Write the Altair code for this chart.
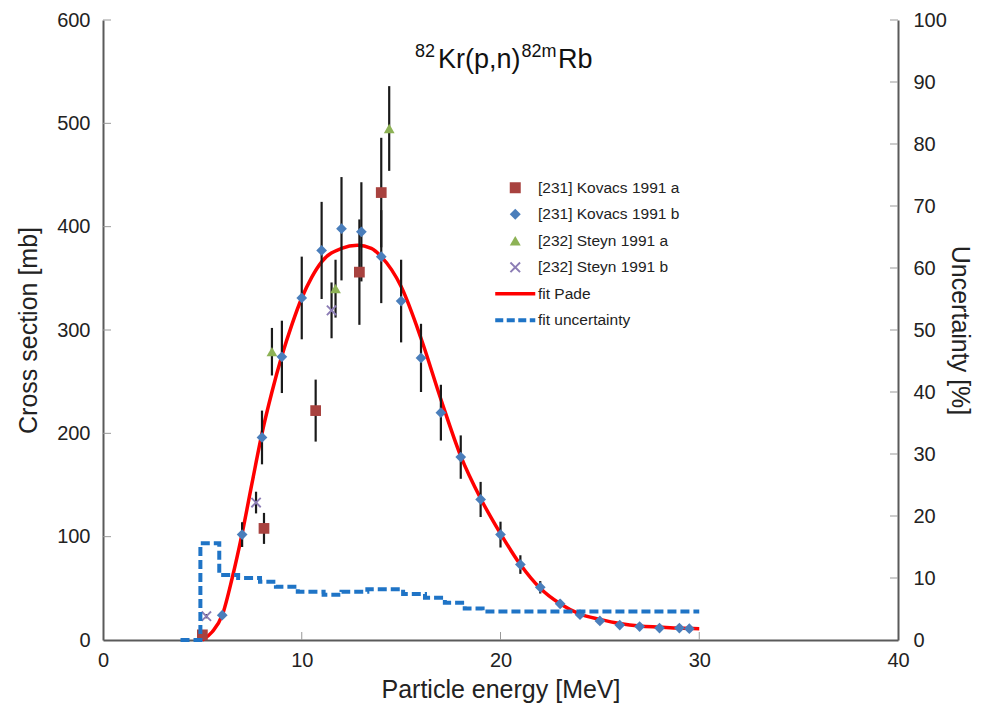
import altair as alt
import pandas as pd

# ---------------- data ----------------
series_names = ["[231] Kovacs 1991 a", "[231] Kovacs 1991 b", "[232] Steyn 1991 a",
                "[232] Steyn 1991 b", "fit Pade", "fit uncertainty"]

kov_a_E = [5.0, 8.1, 10.7, 12.9, 14.0]
kov_a_sig = [5, 108, 222, 356, 433]
kov_a_err = [2, 15, 30, 51, 53]

kov_b_E = [6, 7, 8, 9, 10, 11, 12, 13, 14, 15, 16, 17, 18, 19, 20, 21, 22, 23, 24, 25,
           26, 27, 28, 29, 29.5]
kov_b_sig = [24, 102, 196, 274, 331, 377, 398, 395, 371, 328, 273, 220, 177, 136, 102, 73,
             51, 35, 24.5, 18.5, 14.5, 13, 11.6, 11.5, 11]
kov_b_err = [3, 12, 26, 35, 40, 47, 50, 48, 45, 40, 33, 27, 21, 17, 12.5, 9, 6, 4, 3, 2,
             1.5, 1.5, 1.2, 1.2, 1.1]

steyn_a_E = [8.5, 11.7, 14.4]
steyn_a_sig = [279, 340, 495]
steyn_a_err = [23, 28, 41]

steyn_b_E = [5.2, 7.7, 11.5]
steyn_b_sig = [23, 133, 319]
steyn_b_err = [2, 10.5, 27]

fit_E = [5.0, 5.5, 6.0, 6.5, 7.0, 7.5, 8.0, 8.5, 9.0, 9.5, 10.0, 10.5, 11.0, 12.0, 12.8,
         13.5, 14.0, 15.0, 16.0, 17.0, 18.0, 19.0, 20.0, 21.0, 22.0, 23.0, 24.0, 25.0,
         26.0, 27.0, 28.0, 29.0, 30.0]
fit_sig = [0, 8, 24, 60, 103, 152, 200, 240, 275, 305, 331, 351, 366, 379, 382, 379, 371,
           342, 292, 233, 178, 137, 103, 73, 50, 35, 25, 20, 16, 13.5, 12.5, 11.5, 11]

unc_E = [3.9, 4.9, 5.85, 6.8, 7.9, 8.7, 9.8, 11.1, 12.0, 13.3, 15.1, 16.2, 17.2, 18.2,
         19.1, 30.0]
unc_pct = [0, 15.6, 10.5, 10.0, 9.4, 8.6, 7.8, 7.3, 7.8, 8.2, 7.4, 6.8, 6.0, 5.1, 4.6, 4.6]

x_tick_labels = [0, 10, 20, 30, 40]
y_tick_labels = [0, 100, 200, 300, 400, 500, 600]
u_tick_labels = [0, 10, 20, 30, 40, 50, 60, 70, 80, 90, 100]
left_ticks = [100, 200, 300, 400, 500, 600]
bottom_ticks = [10, 20, 30]
right_ticks = [10, 20, 30, 40, 50, 60, 70, 80, 90, 100]

# ---------------- styles ----------------
colors = ["#A8423F", "#4A7EBB", "#8DB255", "#8C7DB5", "#FF0000", "#1F74C6"]
x_path = ("M-1,-0.75L-0.75,-1L0,-0.25L0.75,-1L1,-0.75L0.25,0L1,0.75L0.75,1L0,0.25"
          "L-0.75,1L-1,0.75L-0.25,0Z")
line_path = "M-3.64,-0.32H3.64V0.32H-3.64Z"
dash_path = ("M-3.64,-0.36H-2.18V0.36H-3.64Z M-1.55,-0.36H-0.09V0.36H-1.55Z "
             "M0.55,-0.36H2.0V0.36H0.55Z M2.64,-0.36H3.64V0.36H2.64Z")
shapes = ["square", "diamond", "triangle-up", x_path, line_path, dash_path]

FONT = "Liberation Sans"

rows = []
for name, Es, ss, es in [(series_names[0], kov_a_E, kov_a_sig, kov_a_err),
                         (series_names[1], kov_b_E, kov_b_sig, kov_b_err),
                         (series_names[2], steyn_a_E, steyn_a_sig, steyn_a_err),
                         (series_names[3], steyn_b_E, steyn_b_sig, steyn_b_err)]:
    for E, s, e in zip(Es, ss, es):
        rows.append({"E": E, "sigma": s, "lo": s - e, "hi": s + e, "series": name})
pts = pd.DataFrame(rows)
fit_df = pd.DataFrame({"E": fit_E, "sigma": fit_sig})
unc_df = pd.DataFrame({"E": unc_E, "pct": unc_pct})

xs = alt.Scale(domain=[0, 40], nice=False)
ys = alt.Scale(domain=[0, 600], nice=False)
us = alt.Scale(domain=[0, 100], nice=False)

x_axis = alt.Axis(values=x_tick_labels, title="Particle energy [MeV]", ticks=False,
                  labelPadding=10, titlePadding=7, format="d", labelFlush=False)
y_axis = alt.Axis(values=y_tick_labels, title="Cross section [mb]",
                  ticks=False, labelPadding=13, titlePadding=15, format="d", labelFlush=False)
u_axis = alt.Axis(orient="right", values=u_tick_labels,
                  title="Uncertainty [%]", ticks=False, labelPadding=15, titlePadding=0,
                  format="d", labelFlush=False)

leg = alt.Legend(orient="none", legendX=404.5, legendY=160, title=None, direction="vertical",
                 labelFont=FONT, labelFontSize=15.5, labelColor="#222", symbolSize=121,
                 rowPadding=9.5, symbolOffset=0, labelOffset=15, padding=0,
                 symbolStrokeWidth=0, labelLimit=400)

X = lambda f: alt.X(f, scale=xs, axis=x_axis)
Y = lambda f: alt.Y(f, scale=ys, axis=y_axis)
U = lambda f: alt.Y(f, scale=us, axis=u_axis)

fit = alt.Chart(fit_df).mark_line(color="#FF0000", strokeWidth=3.5, interpolate="monotone").encode(
    x=X("E:Q"), y=Y("sigma:Q"))

errbars = alt.Chart(pts).mark_rule(color="#1a1a1a", strokeWidth=2.2).encode(
    x=X("E:Q"), y=Y("lo:Q"), y2="hi:Q")

points = alt.Chart(pts).mark_point(filled=True, size=115, opacity=1, strokeWidth=0).encode(
    x=X("E:Q"), y=Y("sigma:Q"),
    color=alt.Color("series:N", scale=alt.Scale(domain=series_names, range=colors), legend=leg),
    shape=alt.Shape("series:N", scale=alt.Scale(domain=series_names, range=shapes), legend=leg),
)

lticks = alt.Chart(pd.DataFrame({"v": left_ticks})).mark_rule(color="#999", strokeWidth=1).encode(
    y=Y("v:Q"), x=alt.value(0), x2=alt.value(8))
bticks = alt.Chart(pd.DataFrame({"v": bottom_ticks})).mark_rule(color="#999", strokeWidth=1).encode(
    x=X("v:Q"), y=alt.value(620), y2=alt.value(612))

title_parts = [("82", 18, 312, 37), ("Kr(p,n)", 27, 335, 48), ("82m", 18, 418.5, 37), ("Rb", 27, 455, 48)]
title_layers = []
for txt, fs, px, py in title_parts:
    title_layers.append(
        alt.Chart(pd.DataFrame({"t": [txt]})).mark_text(
            align="left", baseline="alphabetic", font=FONT, fontSize=fs, color="#111"
        ).encode(text="t:N", x=alt.value(px), y=alt.value(py))
    )

left = alt.layer(fit, errbars, points, lticks, bticks, *title_layers)

unc = alt.Chart(unc_df).mark_line(color="#1F74C6", strokeWidth=4, strokeDash=[9, 4],
                                   interpolate="step-after").encode(
    x=X("E:Q"), y=U("pct:Q"))
rticks = alt.Chart(pd.DataFrame({"v": right_ticks})).mark_rule(color="#999", strokeWidth=1).encode(
    y=U("v:Q"), x=alt.value(795), x2=alt.value(787))
right = alt.layer(unc, rticks)

chart = alt.layer(left, right).resolve_scale(y="independent").properties(
    width=795, height=620,
    autosize=alt.AutoSizeParams(type="none"),
    padding={"left": 95, "top": 12, "right": 78, "bottom": 70},
).configure_axis(
    labelFont=FONT, titleFont=FONT, labelFontSize=20, titleFontSize=25,
    labelColor="#222", titleColor="#222", titleFontWeight="normal",
    domainColor="#5a5a5a", domainWidth=2, grid=False,
).configure_view(strokeWidth=0)

chart.save("out.html", embed_options={"renderer": "svg", "actions": False})
